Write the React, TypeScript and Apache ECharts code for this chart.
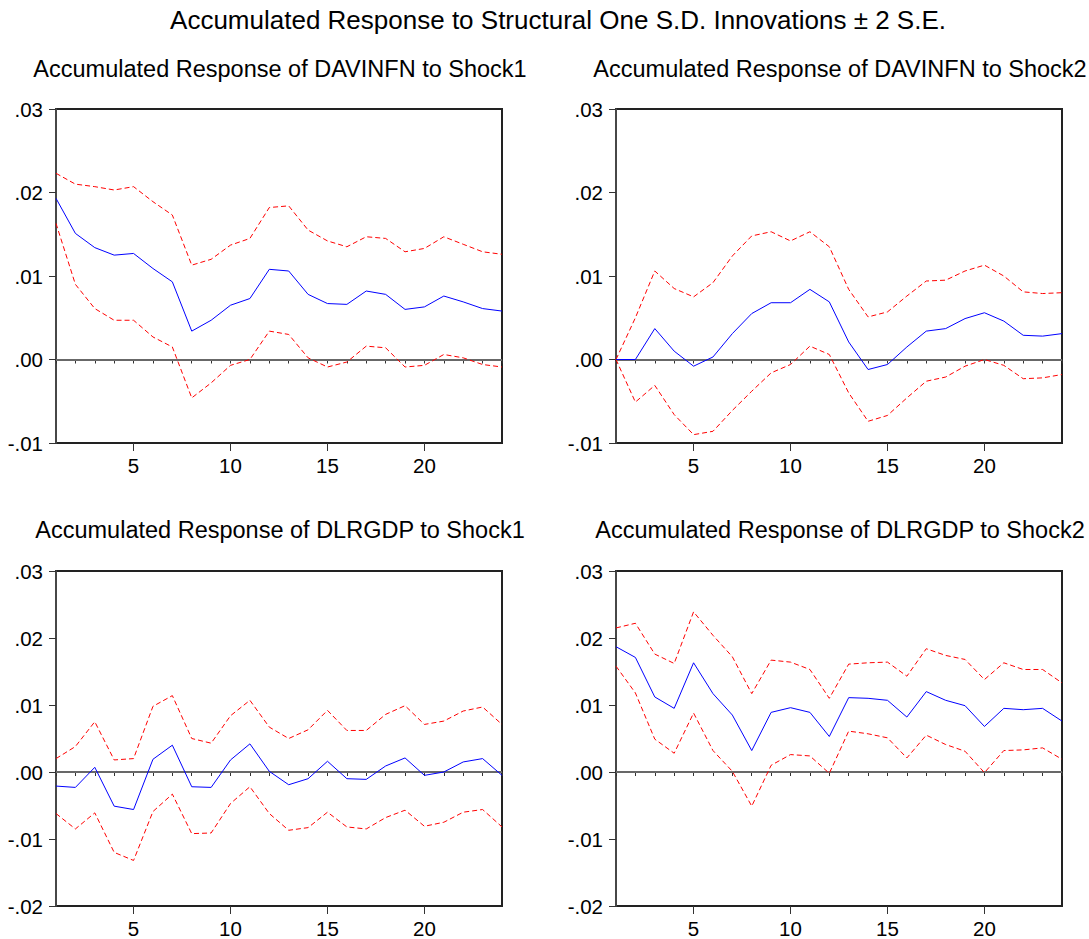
import React, { useEffect, useRef } from "react";
import * as echarts from "echarts";

const mainTitle = "Accumulated Response to Structural One S.D. Innovations ± 2 S.E.";
const panelTitles = [
  "Accumulated Response of DAVINFN to Shock1",
  "Accumulated Response of DAVINFN to Shock2",
  "Accumulated Response of DLRGDP to Shock1",
  "Accumulated Response of DLRGDP to Shock2",
];
const periods = ["1","2","3","4","5","6","7","8","9","10","11","12","13","14","15","16","17","18","19","20","21","22","23","24"];

const infShock1 = [0.0193,0.0151,0.0134,0.0125,0.0127,0.0109,0.0093,0.0034,0.0047,0.0065,0.0073,0.0108,0.0106,0.0078,0.0067,0.0066,0.0082,0.0078,0.0060,0.0063,0.0076,0.0069,0.0061,0.0058];
const infShock1Upper = [0.0223,0.0210,0.0207,0.0203,0.0207,0.0189,0.0173,0.0113,0.0120,0.0137,0.0145,0.0182,0.0184,0.0155,0.0142,0.0135,0.0147,0.0145,0.0129,0.0133,0.0147,0.0138,0.0129,0.0126];
const infShock1Lower = [0.0163,0.0090,0.0061,0.0047,0.0047,0.0027,0.0015,-0.0046,-0.0028,-0.0007,0.0000,0.0034,0.0030,0.0002,-0.0009,-0.0003,0.0016,0.0014,-0.0009,-0.0007,0.0006,0.0002,-0.0006,-0.0009];

const infShock2 = [0,0,0.0037,0.0010,-0.0008,0.0003,0.0031,0.0055,0.0068,0.0068,0.0084,0.0069,0.0021,-0.0012,-0.0006,0.0015,0.0034,0.0037,0.0049,0.0056,0.0046,0.0029,0.0028,0.0031];
const infShock2Upper = [0,0.0050,0.0106,0.0085,0.0075,0.0092,0.0124,0.0148,0.0153,0.0142,0.0153,0.0135,0.0084,0.0051,0.0057,0.0076,0.0094,0.0095,0.0106,0.0113,0.0100,0.0081,0.0079,0.0080];
const infShock2Lower = [0,-0.0051,-0.0031,-0.0066,-0.0090,-0.0086,-0.0061,-0.0038,-0.0016,-0.0006,0.0016,0.0006,-0.0040,-0.0074,-0.0067,-0.0046,-0.0026,-0.0021,-0.0008,0.0000,-0.0007,-0.0023,-0.0022,-0.0018];

const gdpShock1 = [-0.0021,-0.0023,0.0007,-0.0051,-0.0056,0.0019,0.0040,-0.0022,-0.0023,0.0018,0.0042,0.0001,-0.0019,-0.0010,0.0016,-0.0010,-0.0011,0.0009,0.0021,-0.0005,0.0000,0.0015,0.0020,-0.0005];
const gdpShock1Upper = [0.0020,0.0038,0.0075,0.0018,0.0020,0.0098,0.0114,0.0050,0.0043,0.0084,0.0107,0.0067,0.0050,0.0063,0.0092,0.0062,0.0062,0.0086,0.0099,0.0071,0.0076,0.0091,0.0097,0.0071];
const gdpShock1Lower = [-0.0062,-0.0085,-0.0061,-0.0120,-0.0132,-0.0059,-0.0033,-0.0092,-0.0091,-0.0047,-0.0022,-0.0062,-0.0087,-0.0083,-0.0060,-0.0082,-0.0085,-0.0068,-0.0057,-0.0081,-0.0075,-0.0060,-0.0056,-0.0082];

const gdpShock2 = [0.0187,0.0171,0.0112,0.0095,0.0163,0.0117,0.0085,0.0032,0.0089,0.0096,0.0089,0.0053,0.0111,0.0110,0.0107,0.0082,0.0120,0.0107,0.0099,0.0068,0.0095,0.0093,0.0095,0.0076];
const gdpShock2Upper = [0.0215,0.0222,0.0176,0.0162,0.0239,0.0204,0.0172,0.0117,0.0167,0.0164,0.0153,0.0110,0.0161,0.0163,0.0164,0.0143,0.0184,0.0174,0.0168,0.0138,0.0163,0.0153,0.0153,0.0133];
const gdpShock2Lower = [0.0158,0.0118,0.0049,0.0028,0.0088,0.0032,0.0001,-0.0051,0.0010,0.0026,0.0024,-0.0002,0.0061,0.0057,0.0051,0.0021,0.0055,0.0041,0.0031,-0.0001,0.0032,0.0033,0.0036,0.0019];

const yMins = [-0.01, -0.01, -0.02, -0.02];
const yMax = 0.03;
const yStep = 0.01;

const panelData = [
  [infShock1, infShock1Upper, infShock1Lower],
  [infShock2, infShock2Upper, infShock2Lower],
  [gdpShock1, gdpShock1Upper, gdpShock1Lower],
  [gdpShock2, gdpShock2Upper, gdpShock2Lower],
];

const FONT = "'Liberation Sans', Arial, sans-serif";

const grids = [
  { left: 56, top: 109, width: 446, height: 334 },
  { left: 616, top: 109, width: 446, height: 334 },
  { left: 56, top: 571, width: 446, height: 335 },
  { left: 616, top: 571, width: 446, height: 335 },
];
const titleYs = [69, 69, 530, 530];

function fmtY(v: number) {
  const r = Math.round(v * 100);
  if (r === 0) return ".00";
  const s = "." + String(Math.abs(r)).padStart(2, "0");
  return r < 0 ? "-" + s : s;
}

export default function App() {
  const ref = useRef<HTMLDivElement>(null);
  useEffect(() => {
    document.body.style.margin = "0";
    const chart = echarts.init(ref.current!, undefined, { renderer: "svg" });
    const xAxis: any[] = [];
    const yAxis: any[] = [];
    const series: any[] = [];
    const graphic: any[] = [
      {
        type: "text",
        x: 558,
        y: 20,
        style: { text: mainTitle, font: `26px ${FONT}`, fill: "#000", textAlign: "center", textVerticalAlign: "middle" },
      },
    ];
    grids.forEach((g, i) => {
      graphic.push({
        type: "text",
        x: g.left + g.width / 2 + 1,
        y: titleYs[i],
        style: { text: panelTitles[i], font: `23.5px ${FONT}`, fill: "#000", textAlign: "center", textVerticalAlign: "middle" },
      });
      // minor ticks + axis line
      xAxis.push({
        type: "category",
        gridIndex: i,
        data: periods,
        boundaryGap: false,
        position: "bottom",
        axisLine: { show: true, lineStyle: { color: "#222", width: 2 } },
        axisTick: { show: true, interval: 0, length: 4, lineStyle: { color: "#333", width: 1 } },
        axisLabel: { show: false },
        splitLine: { show: false },
      });
      // major ticks + labels
      xAxis.push({
        type: "category",
        gridIndex: i,
        data: periods,
        boundaryGap: false,
        position: "bottom",
        axisLine: { show: false },
        axisTick: {
          show: true,
          length: 8,
          interval: (idx: number, val: string) => Number(val) % 5 === 0,
          lineStyle: { color: "#333", width: 1 },
        },
        axisLabel: {
          show: true,
          interval: (idx: number, val: string) => Number(val) % 5 === 0,
          fontFamily: FONT,
          fontSize: 20.5,
          color: "#000",
          margin: 12,
        },
        splitLine: { show: false },
      });
      yAxis.push({
        type: "value",
        gridIndex: i,
        min: yMins[i],
        max: yMax,
        interval: yStep,
        axisLine: { show: true, lineStyle: { color: "#555", width: 1.5 } },
        axisTick: { show: true, length: 7, lineStyle: { color: "#333", width: 1 } },
        axisLabel: { fontFamily: FONT, fontSize: 20.5, color: "#000", margin: 13, formatter: fmtY },
        splitLine: { show: false },
      });
      const [mid, up, lo] = panelData[i];
      series.push({
        type: "line",
        xAxisIndex: i * 2,
        yAxisIndex: i,
        data: mid,
        symbol: "none",
        lineStyle: { color: "#0000FF", width: 1 },
        z: 3,
        markLine: {
          silent: true,
          symbol: "none",
          label: { show: false },
          lineStyle: { color: "#808080", width: 1.5, type: "solid", opacity: 1 },
          data: [{ yAxis: 0 }],
          z: 1,
        },
      });
      series.push({
        type: "line",
        xAxisIndex: i * 2,
        yAxisIndex: i,
        data: up,
        symbol: "none",
        lineStyle: { color: "#FF0000", width: 1, type: [5, 3] },
        z: 2,
      });
      series.push({
        type: "line",
        xAxisIndex: i * 2,
        yAxisIndex: i,
        data: lo,
        symbol: "none",
        lineStyle: { color: "#FF0000", width: 1, type: [5, 3] },
        z: 2,
      });
    });
    chart.setOption({
      animation: false,
      backgroundColor: "#fff",
      textStyle: { fontFamily: FONT },
      grid: grids.map((g) => ({ ...g, show: true, borderColor: "#222", borderWidth: 2, backgroundColor: "transparent" })),
      xAxis,
      yAxis,
      series,
      graphic,
    });
    return () => chart.dispose();
  }, []);
  return <div ref={ref} style={{ width: 1089, height: 939 }} />;
}
